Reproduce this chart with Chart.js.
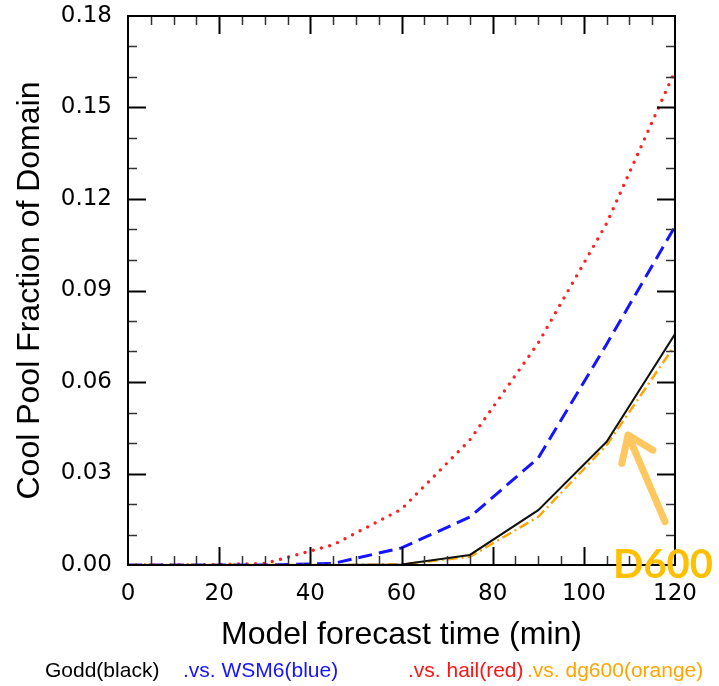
<!DOCTYPE html>
<html>
<head>
<meta charset="utf-8">
<script src="https://cdn.jsdelivr.net/npm/chart.js@4.4.1/dist/chart.umd.min.js"></script>
<style>
  html, body { margin: 0; padding: 0; background: #fff; }
  #wrap { position: relative; width: 719px; height: 686px; }
</style>
</head>
<body>
<div id="wrap"><canvas id="chart-coolpool"></canvas></div>
<script>
// Forecast times (min)
const times = [0, 15, 30, 45, 60, 75, 90, 105, 120];

// Cool pool fraction of domain per microphysics run
const godd  = [0, 0, 0, 0, 0.0002, 0.0033, 0.0180, 0.0404, 0.0757];
const wsm6  = [0, 0, 0, 0.0005, 0.0056, 0.0157, 0.0351, 0.0724, 0.1110];
const hail  = [0, 0, 0.0005, 0.0066, 0.0183, 0.0410, 0.0728, 0.1120, 0.1620];
const dg600 = [0, 0, 0, 0, 0.0002, 0.0027, 0.0158, 0.0393, 0.0721];

// Legend line under the plot
const legendItems = [
    { text: 'Godd(black)', color: '#000000', x: 45 },
    { text: '.vs. WSM6(blue)', color: '#1414ff', x: 183 },
    { text: '.vs. hail(red)', color: '#ff1414', x: 408 },
    { text: '.vs. dg600(orange)', color: '#ffa500', x: 527 }
];

// Callout for the dg600 run (data coords)
const calloutText = 'D600';
const calloutTip = { x: 109.7, y: 0.0426 };
const calloutTail = { x: 117.8, y: 0.0142 };

Chart.defaults.font.family = '"Liberation Sans", Arial, sans-serif';
Chart.defaults.color = '#000';

const tickFont = { family: '"DejaVu Sans", sans-serif', size: 23 };

const toXY = (arr) => arr.map((v, i) => ({ x: times[i], y: v }));

// inward ticks on all four sides + frame
const frameTicks = {
    id: 'frameTicks',
    afterDatasetsDraw(chart) {
        const { ctx, chartArea: a, scales: { x, y } } = chart;
        ctx.save();
        for (let t = 5; t < 120; t += 5) {
            const major = t % 20 === 0;
            const len = major ? 18 : 9;
            const px = Math.round(x.getPixelForValue(t)) + 0.5;
            ctx.strokeStyle = major ? '#000' : '#333';
            ctx.lineWidth = major ? 2 : 1.5;
            ctx.beginPath();
            ctx.moveTo(px, a.bottom); ctx.lineTo(px, a.bottom - len);
            ctx.moveTo(px, a.top); ctx.lineTo(px, a.top + len);
            ctx.stroke();
        }
        for (let i = 1; i < 18; i++) {
            const major = i % 3 === 0;
            const len = major ? 18 : 9;
            const py = Math.round(y.getPixelForValue(i / 100)) + 0.5;
            ctx.strokeStyle = major ? '#000' : '#333';
            ctx.lineWidth = major ? 2 : 1.5;
            ctx.beginPath();
            ctx.moveTo(a.left, py); ctx.lineTo(a.left + len, py);
            ctx.moveTo(a.right, py); ctx.lineTo(a.right - len, py);
            ctx.stroke();
        }
        ctx.strokeStyle = '#000';
        ctx.lineWidth = 2;
        ctx.strokeRect(a.left, a.top, a.right - a.left, a.bottom - a.top);
        ctx.restore();
    }
};

// arrow + label + bottom legend text
const annotations = {
    id: 'annotations',
    afterDraw(chart) {
        const { ctx, scales: { x, y } } = chart;
        ctx.save();

        const tx = x.getPixelForValue(calloutTip.x), ty = y.getPixelForValue(calloutTip.y);
        const sx = x.getPixelForValue(calloutTail.x), sy = y.getPixelForValue(calloutTail.y);
        const ang = Math.atan2(ty - sy, tx - sx);
        const head = 29;
        ctx.strokeStyle = '#ffc75f';
        ctx.lineWidth = 7;
        ctx.lineCap = 'round';
        ctx.lineJoin = 'round';
        ctx.beginPath();
        ctx.moveTo(sx, sy); ctx.lineTo(tx, ty);
        ctx.moveTo(tx + head * Math.cos(ang + Math.PI - 0.62), ty + head * Math.sin(ang + Math.PI - 0.62));
        ctx.lineTo(tx, ty);
        ctx.lineTo(tx + head * Math.cos(ang + Math.PI + 0.62), ty + head * Math.sin(ang + Math.PI + 0.62));
        ctx.stroke();

        ctx.fillStyle = '#ffc000';
        ctx.font = 'bold 40px Lato, "Open Sans", sans-serif';
        ctx.textBaseline = 'alphabetic';
        ctx.fillText(calloutText, 613, 578);

        ctx.font = '21px "Liberation Sans", Arial, sans-serif';
        legendItems.forEach(item => {
            ctx.fillStyle = item.color;
            ctx.fillText(item.text, item.x, 677);
        });
        ctx.restore();
    }
};

new Chart(document.getElementById('chart-coolpool').getContext('2d'), {
    type: 'line',
    data: {
        datasets: [
            {
                label: 'Godd',
                data: toXY(godd),
                borderColor: '#111',
                borderWidth: 2
            },
            {
                label: 'dg600',
                data: toXY(dg600),
                borderColor: '#ffa500',
                borderWidth: 2.4,
                borderDash: [10, 4, 2, 4]
            },
            {
                label: 'WSM6',
                data: toXY(wsm6),
                borderColor: '#1414ff',
                borderWidth: 3,
                borderDash: [14, 7]
            },
            {
                label: 'hail',
                data: toXY(hail),
                borderColor: '#ff1f1f',
                borderWidth: 3.4,
                borderCapStyle: 'round',
                borderDash: [0, 8.5]
            }
        ]
    },
    options: {
        responsive: true,
        maintainAspectRatio: false,
        animation: false,
        layout: { padding: { left: 0, top: 16, right: 44, bottom: 0 } },
        elements: { point: { radius: 0 }, line: { tension: 0, fill: false } },
        plugins: { legend: { display: false }, tooltip: { enabled: false } },
        scales: {
            x: {
                type: 'linear',
                min: 0,
                max: 120,
                grid: { display: false, drawTicks: false },
                border: { display: false },
                ticks: { stepSize: 20, padding: 15, font: tickFont, color: '#000' },
                title: {
                    display: true,
                    text: 'Model forecast time (min)',
                    font: { size: 32 },
                    color: '#000',
                    padding: { top: 0, bottom: 32 }
                },
                afterFit(scale) {
                    scale.height = 121;
                    scale.paddingLeft = 0;
                    scale.paddingRight = 0;
                }
            },
            y: {
                min: 0,
                max: 0.18,
                grid: { display: false, drawTicks: false },
                border: { display: false },
                ticks: {
                    stepSize: 0.03,
                    padding: 16,
                    font: tickFont,
                    color: '#000',
                    callback: v => v.toFixed(2)
                },
                title: {
                    display: true,
                    text: 'Cool Pool Fraction of Domain',
                    font: { size: 32 },
                    color: '#000',
                    padding: { top: 11, bottom: 0 }
                },
                afterFit(scale) {
                    scale.width = 128;
                    scale.paddingTop = 0;
                    scale.paddingBottom = 0;
                }
            }
        }
    },
    plugins: [frameTicks, annotations]
});
</script>
</body>
</html>
